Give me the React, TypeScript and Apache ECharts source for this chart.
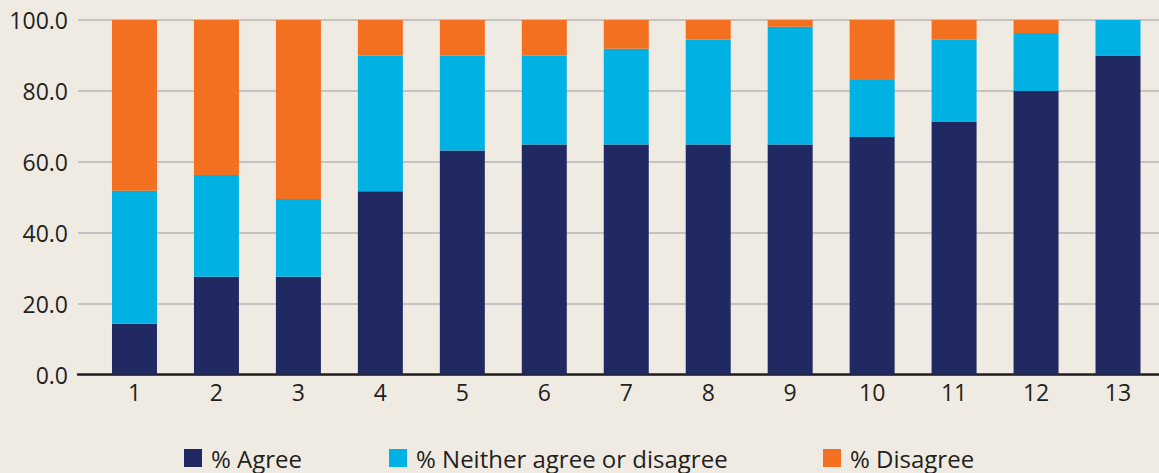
import React, { useEffect, useRef } from "react";
import * as echarts from "echarts";

const categories = ["1", "2", "3", "4", "5", "6", "7", "8", "9", "10", "11", "12", "13"];
const agree = [14.3, 27.6, 27.6, 51.7, 63.2, 64.9, 64.9, 64.9, 64.9, 67.0, 71.4, 80.0, 90.0];
const neither = [37.5, 28.7, 21.9, 38.3, 26.8, 25.1, 27.0, 29.6, 33.2, 16.1, 23.0, 16.3, 10.0];
const disagree = [48.2, 43.7, 50.5, 10.0, 10.0, 10.0, 8.1, 5.5, 1.9, 16.9, 5.6, 3.7, 0];
const yTicks = [0, 20, 40, 60, 80, 100];
const seriesNames = ["% Agree", "% Neither agree or disagree", "% Disagree"];
const colors = ["#212962", "#00b2e3", "#f37021"];

const FONT = "'Open Sans', 'Noto Sans', sans-serif";
const TEXT = "#231f20";

export default function App() {
  const ref = useRef<HTMLDivElement>(null);
  useEffect(() => {
    if (!ref.current) return;
    const chart = echarts.init(ref.current, undefined, { renderer: "svg" });
    const legendBase = {
      top: 446,
      itemWidth: 18,
      itemHeight: 18,
      itemGap: 0,
      icon: "rect",
      textStyle: { fontFamily: FONT, fontSize: 24, color: TEXT, padding: [0, 0, 0, 4] },
      padding: 0,
    };
    const yMin = yTicks[0];
    const yMax = yTicks[yTicks.length - 1];
    chart.setOption({
      animation: false,
      backgroundColor: "#f0ebe2",
      color: colors,
      textStyle: { fontFamily: FONT },
      grid: [
        { left: 78, right: 0, top: 20, height: 354.5 },
        { left: 93.5, right: -1.5, top: 20, height: 354.5 },
      ],
      legend: [
        { ...legendBase, left: 184, data: [seriesNames[0]] },
        { ...legendBase, left: 389, data: [seriesNames[1]] },
        { ...legendBase, left: 823, data: [seriesNames[2]] },
      ],
      xAxis: [
        {
          gridIndex: 0,
          type: "value",
          min: 0,
          max: 1,
          splitLine: { show: false },
          axisTick: { show: false },
          axisLabel: { show: false },
          axisLine: { show: true, lineStyle: { color: TEXT, width: 2.5 } },
        },
        {
          gridIndex: 1,
          type: "category",
          data: categories,
          axisTick: { show: false },
          axisLine: { show: false },
          splitLine: { show: false },
          axisLabel: {
            margin: 6,
            fontFamily: FONT,
            fontSize: 23,
            color: TEXT,
          },
        },
      ],
      yAxis: [
        {
          gridIndex: 0,
          type: "value",
          min: yMin,
          max: yMax,
          interval: 20,
          axisLine: { show: false },
          axisTick: { show: false },
          splitLine: { show: true, lineStyle: { color: "#c4c2c3", width: 2 } },
          axisLabel: {
            margin: 10,
            fontFamily: FONT,
            fontSize: 23,
            color: TEXT,
            formatter: (v: number) => v.toFixed(1),
          },
        },
        {
          gridIndex: 1,
          type: "value",
          min: yMin,
          max: yMax,
          show: false,
          splitLine: { show: false },
        },
      ],
      series: [
        { name: seriesNames[0], type: "bar", xAxisIndex: 1, yAxisIndex: 1, stack: "s", barWidth: 45, data: agree, itemStyle: { color: colors[0] } },
        { name: seriesNames[1], type: "bar", xAxisIndex: 1, yAxisIndex: 1, stack: "s", barWidth: 45, data: neither, itemStyle: { color: colors[1] } },
        { name: seriesNames[2], type: "bar", xAxisIndex: 1, yAxisIndex: 1, stack: "s", barWidth: 45, data: disagree, itemStyle: { color: colors[2] } },
      ],
    });
    return () => chart.dispose();
  }, []);
  return (
    <div
      ref={ref}
      style={{ position: "fixed", left: 0, top: 0, width: 1159, height: 473 }}
    />
  );
}
